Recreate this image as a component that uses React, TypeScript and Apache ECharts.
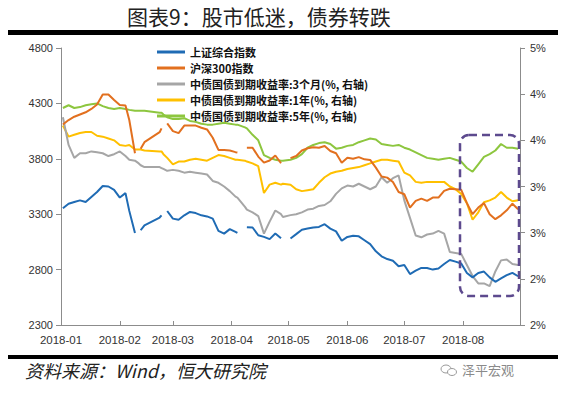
import React, { useEffect, useRef } from "react";
import * as echarts from "echarts";

// ---- data ----
const dates = [
  "2018-01-02","2018-01-05","2018-01-08","2018-01-11","2018-01-14","2018-01-17","2018-01-20","2018-01-23","2018-01-26","2018-01-29",
  "2018-02-01","2018-02-04","2018-02-06","2018-02-09","2018-02-11","2018-02-12","2018-02-14","2018-02-22","2018-02-23","2018-02-24","2018-02-26",
  "2018-03-01","2018-03-04","2018-03-07","2018-03-10","2018-03-13","2018-03-16","2018-03-19","2018-03-22","2018-03-25","2018-03-28","2018-03-31",
  "2018-04-03","2018-04-04","2018-04-08","2018-04-09","2018-04-12","2018-04-15","2018-04-18","2018-04-21","2018-04-24","2018-04-27","2018-04-28",
  "2018-05-02","2018-05-05","2018-05-08","2018-05-11","2018-05-14","2018-05-17","2018-05-20","2018-05-23","2018-05-26","2018-05-29",
  "2018-06-01","2018-06-04","2018-06-07","2018-06-10","2018-06-13","2018-06-16","2018-06-19","2018-06-22","2018-06-25","2018-06-28",
  "2018-07-01","2018-07-04","2018-07-07","2018-07-10","2018-07-13","2018-07-16","2018-07-19","2018-07-22","2018-07-25","2018-07-28","2018-07-31",
  "2018-08-03","2018-08-06","2018-08-09","2018-08-12","2018-08-15","2018-08-18","2018-08-21","2018-08-24","2018-08-27","2018-08-30",
];

const sseComposite = [
  3354,3395,3410,3425,3410,3455,3500,3555,3550,3520,
  3450,3490,3330,3130,null,3155,3200,3270,3289,null,3329,
  3260,3250,3290,3320,3310,3290,3280,3260,3150,3125,3165,
  3140,3131,null,3183,3180,3110,3095,3075,3125,3082,null,
  3081,3120,3160,3170,3180,3185,3210,3170,3145,3060,
  3095,3105,3100,3065,3030,2965,2920,2895,2880,2830,
  2842,2760,2790,2815,2815,2800,2810,2850,2887,2872,2855,
  2770,2730,2770,2782,2730,2690,2720,2750,2770,2740,
];

const csi300 = [
  4110,4150,4180,4200,4220,4250,4290,4380,4380,4330,
  4285,4280,4150,3850,null,3890,3950,4040,4075,null,4120,
  4050,4032,4100,4100,4100,4080,4065,3990,3880,3880,3875,
  3860,3857,null,3900,3900,3820,3765,3785,3830,3760,null,
  3806,3825,3875,3895,3905,3900,3915,3870,3850,3765,
  3810,3800,3815,3795,3790,3720,3640,3630,3590,3500,
  3480,3360,3420,3440,3420,3450,3450,3510,3530,3525,3520,
  3400,3300,3360,3400,3300,3255,3290,3335,3395,3345,
];

const yield3m = [
  3.75,3.45,3.31,3.36,3.36,3.38,3.37,3.36,3.33,3.35,
  3.38,3.33,3.29,3.28,3.25,3.23,3.21,3.21,3.20,3.19,3.17,
  3.18,3.17,3.15,3.16,3.15,3.14,3.13,3.06,3.04,3.00,2.95,
  2.89,2.88,2.78,2.75,2.72,2.68,2.49,2.62,2.74,2.70,2.67,
  2.69,2.70,2.72,2.75,2.76,2.79,2.80,2.84,2.92,2.98,
  3.01,3.00,3.03,3.00,2.97,3.00,3.10,3.04,3.09,3.12,
  2.85,2.66,2.47,2.45,2.48,2.49,2.52,2.49,2.29,2.28,2.27,
  2.15,2.03,1.95,1.95,1.92,2.08,2.20,2.21,2.16,2.15,
];

const yield1y = [
  3.66,3.54,3.56,3.58,3.59,3.59,3.55,3.54,3.52,3.50,
  3.45,3.44,3.45,3.40,3.40,3.40,3.39,3.38,3.38,3.35,3.31,
  3.24,3.27,3.27,3.29,3.30,3.29,3.28,3.31,3.34,3.33,3.31,
  3.29,3.29,3.28,3.27,3.25,3.22,2.93,3.02,3.04,3.02,3.03,
  3.02,2.97,2.95,2.96,2.97,3.04,3.10,3.14,3.16,3.17,
  3.19,3.20,3.21,3.23,3.25,3.27,3.29,3.29,3.28,3.27,
  3.15,3.12,3.05,3.04,3.05,3.05,3.05,3.05,3.00,2.97,2.92,
  2.82,2.64,2.72,2.83,2.85,2.88,2.94,2.88,2.84,2.85,
];

const yield5y = [
  3.85,3.88,3.85,3.86,3.88,3.89,3.90,3.87,3.85,3.84,
  3.85,3.84,3.83,3.82,3.82,3.82,3.82,3.80,3.80,3.78,3.75,
  3.73,3.73,3.74,3.71,3.70,3.68,3.67,3.67,3.68,3.69,3.68,
  3.67,3.67,3.64,3.63,3.56,3.50,3.34,3.31,3.29,3.28,3.28,
  3.29,3.31,3.35,3.42,3.45,3.47,3.48,3.46,3.41,3.42,
  3.44,3.45,3.48,3.50,3.52,3.51,3.46,3.45,3.44,3.45,
  3.42,3.40,3.37,3.34,3.31,3.30,3.29,3.30,3.31,3.29,3.27,
  3.20,3.16,3.24,3.32,3.35,3.39,3.46,3.42,3.42,3.41,
];

const seriesNames = [
  "上证综合指数",
  "沪深300指数",
  "中债国债到期收益率:3个月(%, 右轴)",
  "中债国债到期收益率:1年(%, 右轴)",
  "中债国债到期收益率:5年(%, 右轴)",
];
const seriesColors = ["#1F6BB4", "#E2701F", "#A6A6A6", "#FFC000", "#8DC63F"];

const leftTicks = [2300, 2800, 3300, 3800, 4300, 4800];
const rightTicks = [1.5, 2.0, 2.5, 3.0, 3.5, 4.0, 4.5];
const monthLabels = ["2018-01", "2018-02", "2018-03", "2018-04", "2018-05", "2018-06", "2018-07", "2018-08"];
const xStart = "2018-01-01";
const xEnd = "2018-08-31";

const titleText = "图表9：股市低迷，债券转跌";
const sourceText = "资料来源：Wind，恒大研究院";
const brandText = "泽平宏观";

const ts = (s: string) => {
  const [y, m, d] = s.split("-").map(Number);
  return Date.UTC(y, m - 1, d || 1);
};
const monthStarts = monthLabels.map((m) => ts(m + "-01"));

const toPairs = (vals: (number | null)[]) =>
  dates.map((d, i) => [ts(d), vals[i] == null ? "-" : vals[i]]);

export default function App() {
  const ref = useRef<HTMLDivElement>(null);
  useEffect(() => {
    if (!ref.current) return;
    const chart = echarts.init(ref.current, undefined, { renderer: "svg" });
    const axisColor = "#8c8c8c";
    const labelFont = "Liberation Sans, Arial, sans-serif";
    const allVals = [sseComposite, csi300, yield3m, yield1y, yield5y];
    const option: any = {
      animation: false,
      backgroundColor: "#ffffff",
      grid: { left: 61, right: 47, top: 48, bottom: 72, containLabel: false },
      legend: {
        orient: "vertical",
        left: 152,
        top: 40,
        icon: "rect",
        itemWidth: 28,
        itemHeight: 3,
        itemGap: 2,
        data: seriesNames,
        textStyle: {
          fontFamily: "Noto Sans CJK SC",
          fontSize: 11,
          fontWeight: "bold",
          color: "#111",
          lineHeight: 14,
        },
      },
      xAxis: {
        type: "value",
        min: ts(xStart),
        max: ts(xEnd),
        axisLine: { show: true, lineStyle: { color: axisColor, width: 1 } },
        axisTick: { show: true, inside: true, length: 4, customValues: monthStarts, lineStyle: { color: axisColor } },
        axisLabel: {
          customValues: monthStarts,
          color: "#333",
          fontSize: 11.5,
          fontFamily: labelFont,
          margin: 9,
          formatter: (v: number) => {
            const i = monthStarts.indexOf(v);
            return i >= 0 ? monthLabels[i] : "";
          },
        },
        splitLine: { show: false },
      },
      yAxis: [
        {
          type: "value",
          min: 2300,
          max: 4800,
          position: "left",
          axisLine: { show: true, lineStyle: { color: axisColor } },
          axisTick: { show: true, length: 5, customValues: leftTicks, lineStyle: { color: axisColor } },
          axisLabel: {
            customValues: leftTicks,
            color: "#333",
            fontSize: 11,
            fontFamily: labelFont,
            margin: 8,
            formatter: (v: number) => String(Math.round(v)),
          },
          splitLine: { show: false },
        },
        {
          type: "value",
          min: 1.5,
          max: 4.5,
          position: "right",
          axisLine: { show: true, lineStyle: { color: axisColor } },
          axisTick: { show: true, length: 5, customValues: rightTicks, lineStyle: { color: axisColor } },
          axisLabel: {
            customValues: rightTicks,
            color: "#333",
            fontSize: 11,
            fontFamily: labelFont,
            margin: 10,
            formatter: (v: number) => Math.round(v) + "%",
          },
          splitLine: { show: false },
        },
      ],
      series: seriesNames.map((name, i) => ({
        name,
        type: "line",
        yAxisIndex: i < 2 ? 0 : 1,
        data: toPairs(allVals[i]),
        symbol: "none",
        connectNulls: false,
        lineStyle: { width: 2, color: seriesColors[i] },
        itemStyle: { color: seriesColors[i] },
        z: 10 - i,
      })),
      graphic: [
        {
          type: "text",
          left: 127,
          top: 5,
          style: { text: titleText, font: "21px 'Noto Sans CJK SC'", fill: "#222" },
        },
        { type: "rect", shape: { x: 8, y: 30, width: 550, height: 5 }, style: { fill: "#000" } },
        { type: "rect", shape: { x: 8, y: 355, width: 550, height: 4 }, style: { fill: "#000" } },
        {
          type: "text",
          left: 25,
          top: 361,
          style: { text: sourceText, font: "italic 18px 'Noto Sans CJK SC'", fill: "#222" },
        },
        {
          type: "ellipse",
          shape: { cx: 446, cy: 369, rx: 5, ry: 4 },
          style: { fill: "none", stroke: "#9a9a9a", lineWidth: 1 },
        },
        {
          type: "ellipse",
          shape: { cx: 452, cy: 372, rx: 4.5, ry: 3.5 },
          style: { fill: "#fff", stroke: "#9a9a9a", lineWidth: 1 },
        },
        {
          type: "text",
          left: 462,
          top: 363,
          style: { text: brandText, font: "13px 'Noto Sans CJK SC'", fill: "#8a8a8a" },
        },
        {
          type: "rect",
          shape: { x: 460, y: 135, width: 59, height: 161, r: 9 },
          style: { fill: "none", stroke: "#5D4A8E", lineWidth: 2.5, lineDash: [8, 5] },
          z: 100,
        },
      ],
    };
    chart.setOption(option);
    return () => chart.dispose();
  }, []);
  return (
    <div
      ref={ref}
      style={{ position: "fixed", left: 0, top: 0, width: 567, height: 397, background: "#fff" }}
    />
  );
}
